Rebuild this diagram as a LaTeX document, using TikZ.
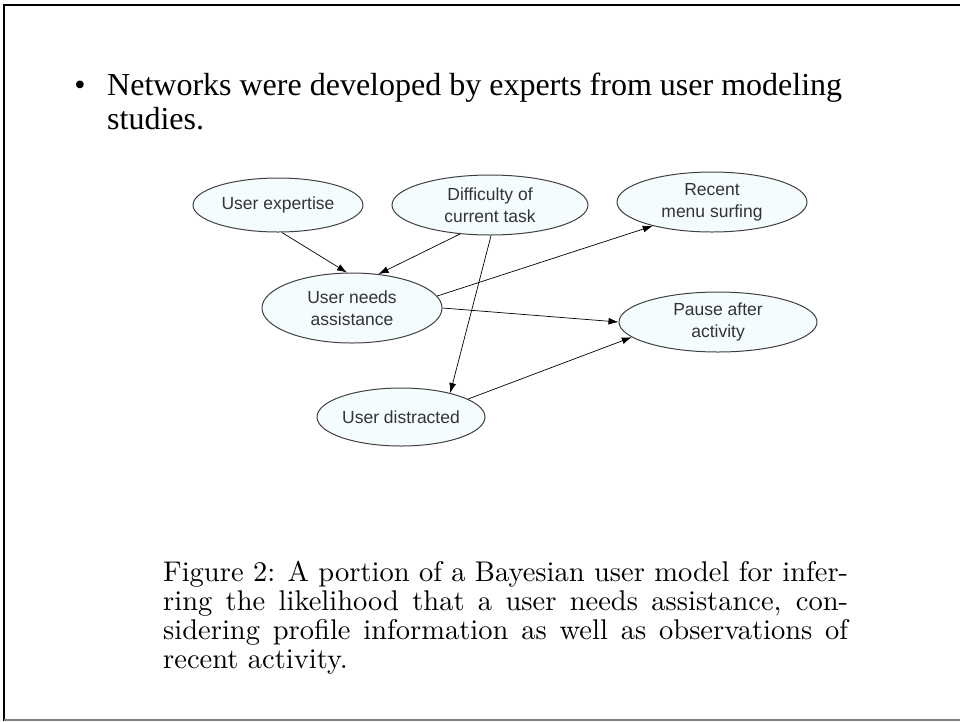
\documentclass[tikz,border=0pt]{standalone}
\usepackage{fontspec}
\newfontfamily\timesfont{Liberation Serif}
\newfontfamily\arialfont{Liberation Sans}
\newfontfamily\capfont{lmroman10-regular.otf}
\usetikzlibrary{positioning,shapes.geometric,arrows.meta}
\tikzset{x=1pt, y=-1pt,
  bnode/.style={ellipse, draw=black!75, line width=1pt, fill=cyan!4,
    inner sep=0pt, align=center, text=black!80,
    font=\arialfont\fontsize{17.5}{22}\selectfont},
  edge/.style={-{Latex[length=10pt,width=7pt]}, line width=0.7pt},
  txt/.style={inner sep=0pt, anchor=base west}}
\newcommand{\capline}[1]{\makebox[685pt][s]{#1}}

\begin{document}
\begin{tikzpicture}
  \useasboundingbox (0,0) rectangle (960,721);
  % frame
  \draw[line width=2pt] (4,721) -- (4,5) -- (960,5);
  \draw[black!50, line width=1.5pt] (4,720) -- (960,720);

  % bullet point
  \node (B)  [txt, anchor=base] at (80,95) {\timesfont\fontsize{32}{35}\selectfont\textbullet};
  \node (L1) [txt] at (107,95) {\timesfont\fontsize{32}{35}\selectfont Networks were developed by experts from user modeling};
  \node (L2) [txt] at (107,129) {\timesfont\fontsize{32}{35}\selectfont studies.};

  % network
  \node (UE)  [bnode, minimum width=170, minimum height=54] at (278,205) {User expertise};
  \node (DCT) [bnode, minimum width=196, minimum height=60] at (490,205) {Difficulty of\\current task};
  \node (RMS) [bnode, minimum width=190, minimum height=60] at (712,202) {Recent\\menu surfing};
  \node (UNA) [bnode, minimum width=180, minimum height=70] at (352,308) {User needs\\assistance};
  \node (PAA) [bnode, minimum width=198, minimum height=60] at (718,322) {Pause after\\activity};
  \node (UD)  [bnode, minimum width=168, minimum height=58] at (401,417) {User distracted};

  \draw[edge] (UE.-82) to (UNA.98);
  \draw[edge] (DCT.-136) to (UNA.52);
  \draw[edge] (DCT.-88) to (UD.26);
  \draw[edge] (UNA.8) to (RMS.202);
  \draw[edge] (UNA.0) to (PAA.180);
  \draw[edge] (UD.15) to (PAA.190);

  % caption
  \node (C1) [txt] at (163,581) {\capfont\fontsize{28.5}{29}\selectfont\capline{Figure 2: A portion of a Bayesian user model for infer-}};
  \node (C2) [txt] at (163,610) {\capfont\fontsize{28.5}{29}\selectfont\capline{ring the likelihood that a user needs assistance, con-}};
  \node (C3) [txt] at (163,639) {\capfont\fontsize{28.5}{29}\selectfont\capline{sidering profile information as well as observations of}};
  \node (C4) [txt] at (163,668) {\capfont\fontsize{28.5}{29}\selectfont recent activity.};
\end{tikzpicture}
\end{document}
